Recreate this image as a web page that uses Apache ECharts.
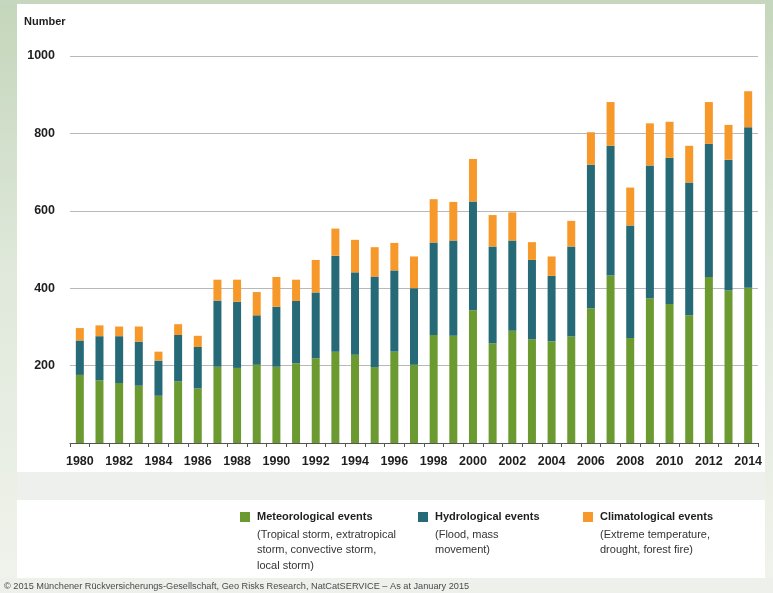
<!DOCTYPE html>
<html>
<head>
<meta charset="utf-8">
<script src="https://cdn.jsdelivr.net/npm/echarts@6/dist/echarts.min.js"></script>
<style>
  html, body { margin: 0; padding: 0; width: 773px; height: 593px; overflow: hidden; }
  body { position: relative; background: linear-gradient(180deg, #c4d6bb 0%, #dfe8da 45%, #f1f3ec 100%); }
  #topstrip { position: absolute; left: 0; top: 0; width: 773px; height: 4px; background: #c7d7bf; }
  #panel { position: absolute; left: 17px; top: 4px; width: 748px; height: 468px; background: #ffffff; }
  #band { position: absolute; left: 17px; top: 472px; width: 748px; height: 28px; background: #eef0ed; }
  #legendpanel { position: absolute; left: 17px; top: 500px; width: 748px; height: 78px; background: #ffffff; }
  #footer { position: absolute; left: 0; top: 578px; width: 773px; height: 15px; background: #eef0eb; }
  #chart { position: absolute; left: 0; top: 0; width: 773px; height: 593px; }
</style>
</head>
<body>
<div id="topstrip"></div>
<div id="panel"></div>
<div id="band"></div>
<div id="legendpanel"></div>
<div id="footer"></div>
<div id="chart"></div>
<script>
const years = ['1980','1981','1982','1983','1984','1985','1986','1987','1988','1989',
  '1990','1991','1992','1993','1994','1995','1996','1997','1998','1999',
  '2000','2001','2002','2003','2004','2005','2006','2007','2008','2009',
  '2010','2011','2012','2013','2014'];
const meteorological = [176,162,155,148,122,159,141,197,194,202,
  197,206,219,236,228,196,236,202,279,277,
  343,258,290,268,263,275,348,433,271,374,
  359,330,429,394,401];
const hydrological = [89,114,121,114,91,120,107,171,171,128,
  155,161,170,248,213,234,210,198,239,246,
  281,250,233,205,169,233,371,335,291,343,
  378,343,344,338,415];
const climatological = [32,28,25,39,23,28,29,54,57,60,
  77,55,84,70,84,76,71,82,112,100,
  110,81,73,46,50,66,84,113,98,109,
  93,95,108,90,93];
const yTicks = [0, 200, 400, 600, 800, 1000];
const seriesNames = ['Meteorological events', 'Hydrological events', 'Climatological events'];
const seriesDesc = [
  ['(Tropical storm, extratropical', 'storm, convective storm,', 'local storm)'],
  ['(Flood, mass', 'movement)'],
  ['(Extreme temperature,', 'drought, forest fire)']
];
const colors = ['#6b9b30', '#266a78', '#f7992a'];
const footerText = '\u00a9 2015 M\u00fcnchener R\u00fcckversicherungs-Gesellschaft, Geo Risks Research, NatCatSERVICE \u2013 As at January 2015';

const FONT = "'Liberation Sans', Arial, sans-serif";
const chart = echarts.init(document.getElementById('chart'), null, { renderer: 'canvas' });

const legendX = [240, 418, 583];
const graphics = [];
seriesNames.forEach((n, i) => {
  graphics.push({ type: 'rect', left: legendX[i], top: 512, shape: { width: 10, height: 10 }, style: { fill: colors[i] } });
  graphics.push({ type: 'text', left: legendX[i] + 17, top: 511, style: { text: n, font: 'bold 11px ' + FONT, fill: '#1e1e1e' } });
  graphics.push({ type: 'text', left: legendX[i] + 17, top: 527, style: { text: seriesDesc[i].join('\n'), font: '11px ' + FONT, fill: '#333', lineHeight: 15.5 } });
});
graphics.push({ type: 'text', left: 24, top: 16, style: { text: 'Number', font: 'bold 11px ' + FONT, fill: '#1e1e1e' } });
graphics.push({ type: 'text', left: 4, top: 582, style: { text: footerText, font: '9.2px ' + FONT, fill: '#4a4a4a' } });

chart.setOption({
  backgroundColor: 'transparent',
  animation: false,
  grid: { left: 70, right: 15, top: 56, bottom: 150 },
  xAxis: {
    type: 'category',
    data: years,
    axisLine: { lineStyle: { color: '#555', width: 1 } },
    axisTick: { show: true, length: 4, interval: 0, lineStyle: { color: '#555' } },
    axisLabel: { interval: 1, margin: 12, color: '#1e1e1e', fontFamily: FONT, fontWeight: 'bold', fontSize: 12.5 }
  },
  yAxis: {
    type: 'value',
    min: yTicks[0],
    max: yTicks[yTicks.length - 1],
    interval: yTicks[1] - yTicks[0],
    axisLine: { show: false },
    axisTick: { show: false },
    splitLine: { lineStyle: { color: '#b8b8b8', width: 1 } },
    axisLabel: { margin: 15, color: '#1e1e1e', fontFamily: FONT, fontWeight: 'bold', fontSize: 12.5,
      formatter: v => (v === 0 ? '' : String(v)) }
  },
  series: [meteorological, hydrological, climatological].map((d, i) => ({
    name: seriesNames[i],
    type: 'bar',
    stack: 'total',
    data: d,
    barWidth: 8,
    itemStyle: { color: colors[i] }
  })),
  graphic: graphics
});
</script>
</body>
</html>
